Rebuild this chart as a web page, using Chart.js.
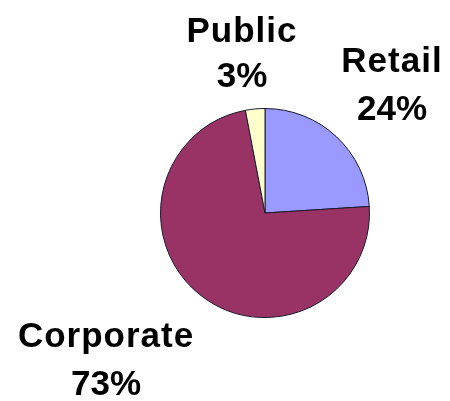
<!DOCTYPE html>
<html>
<head>
<meta charset="utf-8">
<script src="https://cdn.jsdelivr.net/npm/chart.js@4"></script>
<style>
  html, body { margin: 0; padding: 0; background: #fff; }
  #wrap { width: 450px; height: 401px; }
</style>
</head>
<body>
<div id="wrap"><canvas id="myChart" width="450" height="401"></canvas></div>
<script>
  // datos del grafico
  const categories = ["Retail", "Corporate", "Public"];
  const values = [24, 73, 3];
  const colors = ["#9999ff", "#993366", "#ffffcc"];

  // donde van las etiquetas (centro x, linea base del nombre y del %)
  const labelPos = [
    { x: 392, y1: 72, y2: 120 },
    { x: 106, y1: 347, y2: 395 },
    { x: 242, y1: 42, y2: 87 }
  ];

  // Dibuja nombre y porcentaje de cada sector
  const etiquetas = {
    id: "etiquetas",
    afterDraw(chart) {
      const ctx = chart.ctx;
      const total = values.reduce((a, b) => a + b, 0);
      ctx.save();
      ctx.fillStyle = "#000";
      ctx.textAlign = "center";
      ctx.textBaseline = "alphabetic";
      categories.forEach((name, i) => {
        const p = labelPos[i];
        ctx.font = "bold 35px 'Liberation Sans', Arial, sans-serif";
        ctx.letterSpacing = "1px";
        ctx.fillText(name, p.x, p.y1);
        ctx.letterSpacing = "0px";
        ctx.fillText(Math.round(values[i] / total * 100) + "%", p.x, p.y2);
      });
      ctx.restore();
    }
  };

  const ctx = document.getElementById("myChart").getContext("2d");

  new Chart(ctx, {
    type: "pie",
    data: {
      labels: categories,
      datasets: [{
        data: values,
        backgroundColor: colors,
        borderColor: "#1a1a2e",
        borderWidth: 1
      }]
    },
    options: {
      responsive: false,
      animation: false,
      layout: {
        padding: { left: 160, right: 80, top: 108, bottom: 83 }
      },
      plugins: {
        legend: { display: false },
        tooltip: { enabled: false }
      }
    },
    plugins: [etiquetas]
  });
</script>
</body>
</html>
